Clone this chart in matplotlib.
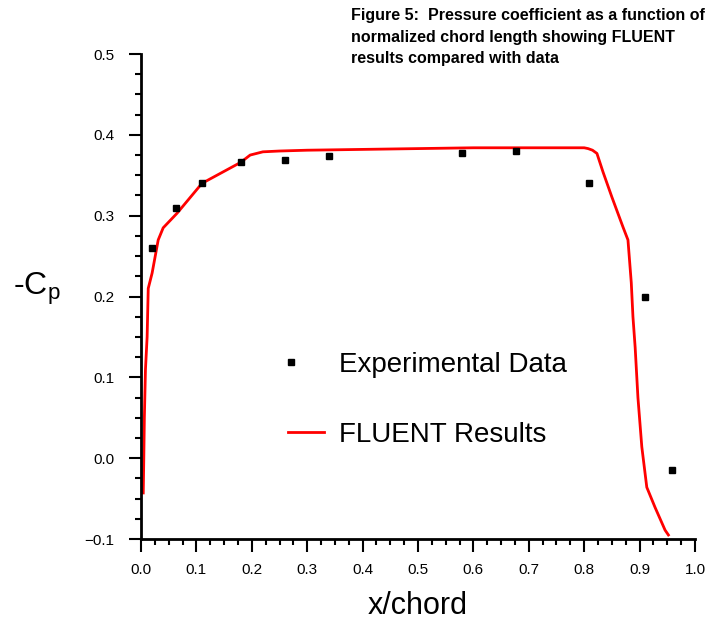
import matplotlib
matplotlib.use('Agg')
import matplotlib.pyplot as plt
from matplotlib.lines import Line2D
from matplotlib.legend_handler import HandlerLine2D
from matplotlib.ticker import MultipleLocator

plt.rcParams['font.family'] = ['Liberation Sans', 'DejaVu Sans']

# Experimental data points
exp_x = [0.020, 0.063, 0.110, 0.180, 0.260, 0.339, 0.579, 0.677, 0.809, 0.910, 0.958]
exp_y = [0.260, 0.309, 0.340, 0.366, 0.369, 0.374, 0.377, 0.380, 0.340, 0.199, -0.014]

# FLUENT results curve
cfd_x = [0.004, 0.005, 0.006, 0.008, 0.011, 0.013, 0.020, 0.031, 0.040, 0.065, 0.110,
         0.180, 0.197, 0.220, 0.250, 0.300, 0.400, 0.500, 0.600, 0.700, 0.800, 0.807,
         0.815, 0.823, 0.834, 0.850, 0.870, 0.879, 0.885, 0.888, 0.892, 0.897, 0.904,
         0.913, 0.928, 0.946, 0.952]
cfd_y = [-0.043, 0.000, 0.050, 0.110, 0.150, 0.210, 0.229, 0.270, 0.285, 0.303, 0.340,
         0.366, 0.375, 0.379, 0.380, 0.381, 0.382, 0.383, 0.384, 0.384, 0.384, 0.383,
         0.381, 0.377, 0.354, 0.323, 0.286, 0.270, 0.217, 0.175, 0.137, 0.075, 0.014,
         -0.036, -0.061, -0.089, -0.095]

x_ticks = [0.0, 0.1, 0.2, 0.3, 0.4, 0.5, 0.6, 0.7, 0.8, 0.9, 1.0]
x_labels = ['0.0', '0.1', '0.2', '0.3', '0.4', '0.5', '0.6', '0.7', '0.8', '0.9', '1.0']
y_ticks = [-0.1, 0.0, 0.1, 0.2, 0.3, 0.4, 0.5]
y_labels = ['\u22120.1', '0.0', '0.1', '0.2', '0.3', '0.4', '0.5']

title = ('Figure 5:  Pressure coefficient as a function of\n'
         'normalized chord length showing FLUENT\n'
         'results compared with data')


# legend marker sits at the left end of the handle, like the original
class LeftMarkerHandler(HandlerLine2D):
    def get_xdata(self, legend, xdescent, ydescent, width, height, fontsize):
        x0 = -xdescent + 0.08 * width
        return [x0], [x0]


fig = plt.figure(figsize=(7.17, 6.23), dpi=100)
ax = fig.add_axes([0.1967, 0.1348, 0.7726, 0.7785])

ax.plot(cfd_x, cfd_y, color='#ff0000', lw=2, zorder=2)
ax.plot(exp_x, exp_y, ls='none', marker='s', ms=5, color='black', zorder=3)

ax.set_xlim(0.0, 1.0)
ax.set_ylim(-0.1, 0.5)
ax.set_xticks(x_ticks)
ax.set_xticklabels(x_labels)
ax.set_yticks(y_ticks)
ax.set_yticklabels(y_labels)
ax.xaxis.set_minor_locator(MultipleLocator(0.025))
ax.yaxis.set_minor_locator(MultipleLocator(0.025))
ax.tick_params(which='major', length=9, width=1.5, labelsize=11)
ax.tick_params(axis='x', which='major', pad=8)
ax.tick_params(axis='y', which='major', pad=10)
ax.tick_params(which='minor', length=4.5, width=1.5)

for s in ['top', 'right']:
    ax.spines[s].set_visible(False)
for s in ['left', 'bottom']:
    ax.spines[s].set_linewidth(2)

ax.set_xlabel('x/chord', fontsize=22, labelpad=10)
fig.text(0.018, 0.537, '-C$_\\mathregular{p}$', fontsize=23, ha='left', va='center')

fig.text(0.49, 0.987, title, fontsize=11.5, fontweight='bold', ha='left', va='top',
         linespacing=1.55)

h_exp = Line2D([], [], ls='none', marker='s', ms=4, color='black')
h_cfd = Line2D([], [], color='#ff0000', lw=2)
ax.legend([h_exp, h_cfd], ['Experimental Data', 'FLUENT Results'], loc='center left',
          bbox_to_anchor=(0.4017, 0.358), bbox_transform=fig.transFigure,
          frameon=False, fontsize=20, handlelength=1.3, handletextpad=0.55,
          labelspacing=1.6, borderpad=0, borderaxespad=0, numpoints=1,
          handler_map={h_exp: LeftMarkerHandler(numpoints=2)})

fig.savefig('out.png', dpi=100)
